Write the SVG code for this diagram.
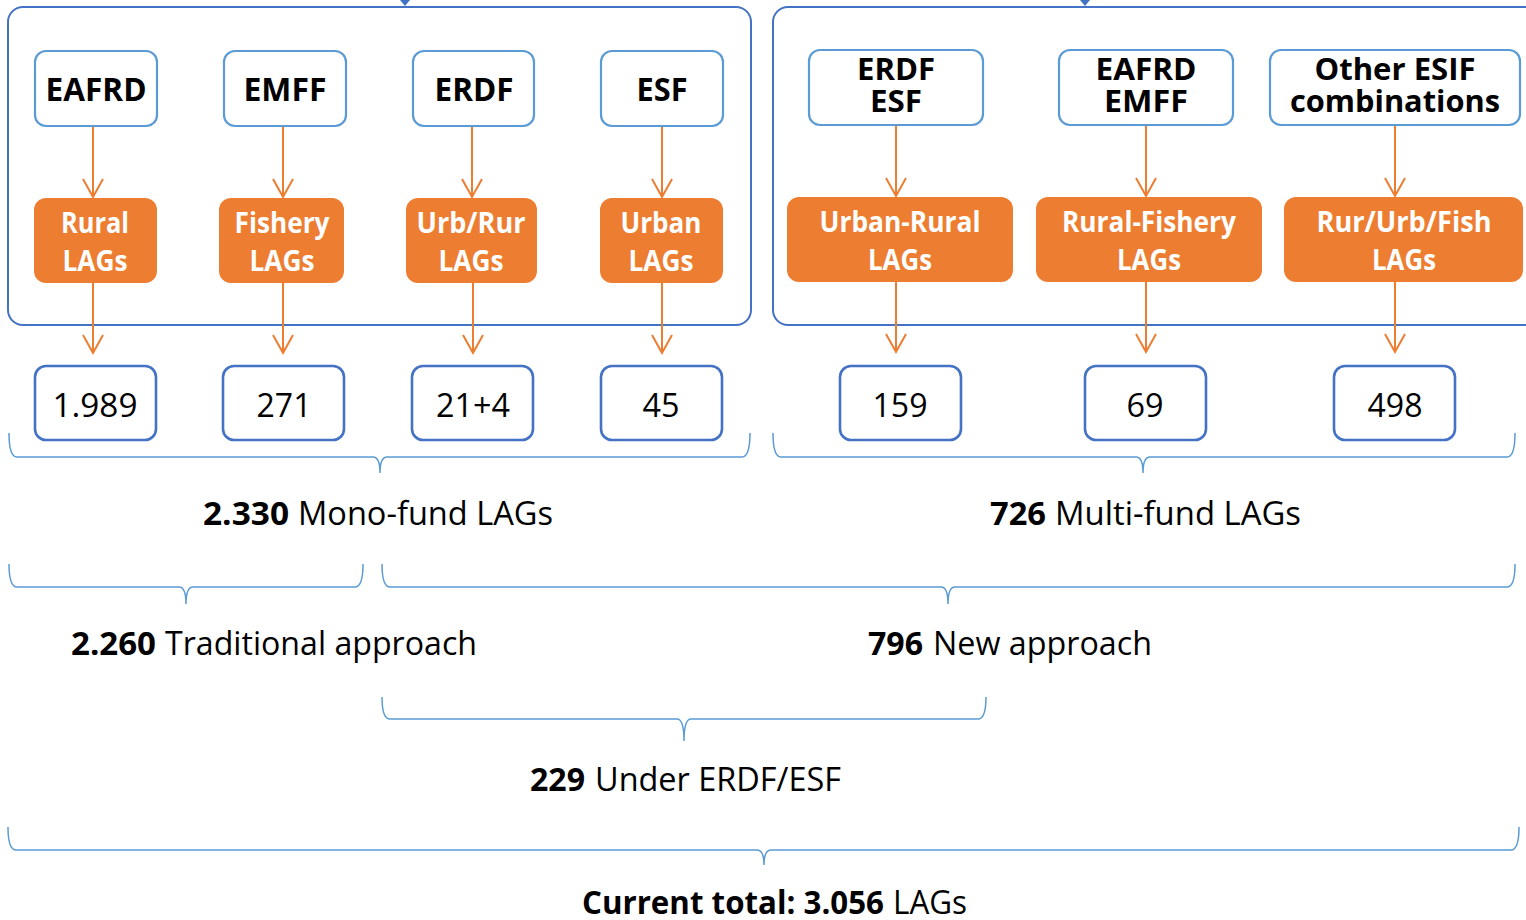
<svg xmlns="http://www.w3.org/2000/svg" width="1526" height="920" viewBox="0 0 1526 920">
<defs>
<style>
.cont{fill:none;stroke:#4472C4;stroke-width:2}
.fund{fill:#fff;stroke:#5B9BD5;stroke-width:2.2}
.lag{fill:#ED7D31}
.num{fill:#fff;stroke:#4472C4;stroke-width:2.6}
.brace{fill:none;stroke:#5B9BD5;stroke-width:1.5}
.conn{stroke:#ED7D31;stroke-width:2;fill:none}
.t{font-family:"Open Sans","Noto Sans",sans-serif}
.fl{font-size:32px;font-weight:700;fill:#000;text-anchor:middle}
.fl2{font-size:30px;font-weight:700;fill:#000;text-anchor:middle}
.ll{font-size:28px;font-weight:700;fill:#fff;text-anchor:middle}
.nl{font-size:33px;fill:#000;text-anchor:middle}
.b{font-size:33px;font-weight:700;fill:#000}
.r{font-size:33px;fill:#000}
</style>
<marker id="ah" markerWidth="24" markerHeight="24" refX="19" refY="11" orient="auto" markerUnits="userSpaceOnUse" viewBox="0 0 24 24">
<path d="M1,1 L19,11 L1,21" fill="none" stroke="#ED7D31" stroke-width="2"/>
</marker>
</defs>
<rect width="1526" height="920" fill="#fff"/>

<g id="mono-container">
<rect class="cont" x="8" y="7" width="743" height="318" rx="15"/>
<polygon points="400,0 410,0 405,6" fill="#4472C4"/>
</g>
<g id="multi-container">
<rect class="cont" x="773" y="7" width="780" height="318" rx="15"/>
<polygon points="1080,0 1090,0 1085,6" fill="#4472C4"/>
</g>

<g id="connectors">
<line class="conn" x1="93" y1="126" x2="93" y2="197" marker-end="url(#ah)"/>
<line class="conn" x1="283" y1="126" x2="283" y2="197" marker-end="url(#ah)"/>
<line class="conn" x1="472" y1="126" x2="472" y2="197" marker-end="url(#ah)"/>
<line class="conn" x1="662" y1="126" x2="662" y2="197" marker-end="url(#ah)"/>
<line class="conn" x1="896" y1="125" x2="896" y2="196" marker-end="url(#ah)"/>
<line class="conn" x1="1146" y1="125" x2="1146" y2="196" marker-end="url(#ah)"/>
<line class="conn" x1="1395" y1="125" x2="1395" y2="196" marker-end="url(#ah)"/>
<line class="conn" x1="93" y1="283" x2="93" y2="353" marker-end="url(#ah)"/>
<line class="conn" x1="283" y1="283" x2="283" y2="353" marker-end="url(#ah)"/>
<line class="conn" x1="473" y1="283" x2="473" y2="353" marker-end="url(#ah)"/>
<line class="conn" x1="662" y1="283" x2="662" y2="353" marker-end="url(#ah)"/>
<line class="conn" x1="896" y1="282" x2="896" y2="352" marker-end="url(#ah)"/>
<line class="conn" x1="1146" y1="282" x2="1146" y2="352" marker-end="url(#ah)"/>
<line class="conn" x1="1395" y1="282" x2="1395" y2="352" marker-end="url(#ah)"/>
</g>

<g id="fund-eafrd"><rect class="fund" x="35" y="51" width="122" height="75" rx="11"/><text class="t fl" x="96" y="101" textLength="101" lengthAdjust="spacingAndGlyphs">EAFRD</text></g>
<g id="fund-emff"><rect class="fund" x="224" y="51" width="122" height="75" rx="11"/><text class="t fl" x="285" y="101" textLength="83" lengthAdjust="spacingAndGlyphs">EMFF</text></g>
<g id="fund-erdf"><rect class="fund" x="413" y="51" width="121" height="75" rx="11"/><text class="t fl" x="474" y="101" textLength="79" lengthAdjust="spacingAndGlyphs">ERDF</text></g>
<g id="fund-esf"><rect class="fund" x="601" y="51" width="122" height="75" rx="11"/><text class="t fl" x="662" y="101" textLength="51" lengthAdjust="spacingAndGlyphs">ESF</text></g>
<g id="fund-erdf-esf"><rect class="fund" x="809" y="50" width="174" height="75" rx="11"/><text class="t fl2" x="896" y="80" textLength="78" lengthAdjust="spacingAndGlyphs">ERDF</text><text class="t fl2" x="896" y="112" textLength="52" lengthAdjust="spacingAndGlyphs">ESF</text></g>
<g id="fund-eafrd-emff"><rect class="fund" x="1059" y="50" width="174" height="75" rx="11"/><text class="t fl2" x="1146" y="80" textLength="101" lengthAdjust="spacingAndGlyphs">EAFRD</text><text class="t fl2" x="1146" y="112" textLength="84" lengthAdjust="spacingAndGlyphs">EMFF</text></g>
<g id="fund-other"><rect class="fund" x="1270" y="50" width="250" height="75" rx="11"/><text class="t fl2" x="1395" y="80" textLength="161" lengthAdjust="spacingAndGlyphs">Other ESIF</text><text class="t fl2" x="1395" y="112" textLength="210" lengthAdjust="spacingAndGlyphs">combinations</text></g>

<g id="lag-rural"><rect class="lag" x="34" y="198" width="123" height="85" rx="12"/><text class="t ll" x="95" y="233" textLength="68" lengthAdjust="spacingAndGlyphs">Rural</text><text class="t ll" x="95" y="271" textLength="65" lengthAdjust="spacingAndGlyphs">LAGs</text></g>
<g id="lag-fishery"><rect class="lag" x="219" y="198" width="125" height="85" rx="12"/><text class="t ll" x="282" y="233" textLength="95" lengthAdjust="spacingAndGlyphs">Fishery</text><text class="t ll" x="282" y="271" textLength="65" lengthAdjust="spacingAndGlyphs">LAGs</text></g>
<g id="lag-urbrur"><rect class="lag" x="406" y="198" width="131" height="85" rx="12"/><text class="t ll" x="471" y="233" textLength="109" lengthAdjust="spacingAndGlyphs">Urb/Rur</text><text class="t ll" x="471" y="271" textLength="65" lengthAdjust="spacingAndGlyphs">LAGs</text></g>
<g id="lag-urban"><rect class="lag" x="600" y="198" width="123" height="85" rx="12"/><text class="t ll" x="661" y="233" textLength="81" lengthAdjust="spacingAndGlyphs">Urban</text><text class="t ll" x="661" y="271" textLength="65" lengthAdjust="spacingAndGlyphs">LAGs</text></g>
<g id="lag-urban-rural"><rect class="lag" x="787" y="197" width="226" height="85" rx="12"/><text class="t ll" x="900" y="232" textLength="161" lengthAdjust="spacingAndGlyphs">Urban-Rural</text><text class="t ll" x="900" y="270" textLength="64" lengthAdjust="spacingAndGlyphs">LAGs</text></g>
<g id="lag-rural-fishery"><rect class="lag" x="1036" y="197" width="226" height="85" rx="12"/><text class="t ll" x="1149" y="232" textLength="174" lengthAdjust="spacingAndGlyphs">Rural-Fishery</text><text class="t ll" x="1149" y="270" textLength="64" lengthAdjust="spacingAndGlyphs">LAGs</text></g>
<g id="lag-rur-urb-fish"><rect class="lag" x="1284" y="197" width="239" height="85" rx="12"/><text class="t ll" x="1404" y="232" textLength="175" lengthAdjust="spacingAndGlyphs">Rur/Urb/Fish</text><text class="t ll" x="1404" y="270" textLength="64" lengthAdjust="spacingAndGlyphs">LAGs</text></g>

<g id="num-1989"><rect class="num" x="35" y="366" width="121" height="74" rx="11"/><text class="t nl" x="95" y="417" textLength="85" lengthAdjust="spacingAndGlyphs">1.989</text></g>
<g id="num-271"><rect class="num" x="223" y="366" width="121" height="74" rx="11"/><text class="t nl" x="284" y="417" textLength="55" lengthAdjust="spacingAndGlyphs">271</text></g>
<g id="num-21-4"><rect class="num" x="412" y="366" width="121" height="74" rx="11"/><text class="t nl" x="473" y="417" textLength="74" lengthAdjust="spacingAndGlyphs">21+4</text></g>
<g id="num-45"><rect class="num" x="601" y="366" width="121" height="74" rx="11"/><text class="t nl" x="661" y="417" textLength="37" lengthAdjust="spacingAndGlyphs">45</text></g>
<g id="num-159"><rect class="num" x="840" y="366" width="121" height="74" rx="11"/><text class="t nl" x="900" y="417" textLength="55" lengthAdjust="spacingAndGlyphs">159</text></g>
<g id="num-69"><rect class="num" x="1085" y="366" width="121" height="74" rx="11"/><text class="t nl" x="1145" y="417" textLength="37" lengthAdjust="spacingAndGlyphs">69</text></g>
<g id="num-498"><rect class="num" x="1334" y="366" width="121" height="74" rx="11"/><text class="t nl" x="1395" y="417" textLength="55" lengthAdjust="spacingAndGlyphs">498</text></g>

<g id="braces">
<path class="brace" d="M9,433 Q9,457 17,457 L373,457 Q380,457 380,473 Q380,457 387,457 L742,457 Q750,457 750,433"/>
<path class="brace" d="M773,433 Q773,457 781,457 L1136,457 Q1143,457 1143,473 Q1143,457 1150,457 L1507,457 Q1515,457 1515,433"/>
<path class="brace" d="M9,564 Q9,587 17,587 L179,587 Q186,587 186,604 Q186,587 193,587 L355,587 Q363,587 363,564"/>
<path class="brace" d="M382,564 Q382,587 390,587 L941,587 Q948,587 948,604 Q948,587 955,587 L1507,587 Q1515,587 1515,564"/>
<path class="brace" d="M382,697 Q382,719 390,719 L677,719 Q684,719 684,741 Q684,719 691,719 L978,719 Q986,719 986,697"/>
<path class="brace" d="M8,827 Q8,850 16,850 L757,850 Q764,850 764,865 Q764,850 771,850 L1511,850 Q1519,850 1519,827"/>
</g>

<g id="label-mono"><text class="t b" x="203" y="525" textLength="86" lengthAdjust="spacingAndGlyphs">2.330</text><text class="t r" x="298" y="525" textLength="255" lengthAdjust="spacingAndGlyphs">Mono-fund LAGs</text></g>
<g id="label-multi"><text class="t b" x="990" y="525" textLength="56" lengthAdjust="spacingAndGlyphs">726</text><text class="t r" x="1055" y="525" textLength="246" lengthAdjust="spacingAndGlyphs">Multi-fund LAGs</text></g>
<g id="label-traditional"><text class="t b" x="71" y="655" textLength="85" lengthAdjust="spacingAndGlyphs">2.260</text><text class="t r" x="165" y="655" textLength="312" lengthAdjust="spacingAndGlyphs">Traditional approach</text></g>
<g id="label-new"><text class="t b" x="868" y="655" textLength="55" lengthAdjust="spacingAndGlyphs">796</text><text class="t r" x="933" y="655" textLength="219" lengthAdjust="spacingAndGlyphs">New approach</text></g>
<g id="label-erdf-esf"><text class="t b" x="530" y="791" textLength="55" lengthAdjust="spacingAndGlyphs">229</text><text class="t r" x="595" y="791" textLength="246" lengthAdjust="spacingAndGlyphs">Under ERDF/ESF</text></g>
<g id="label-total"><text class="t b" x="582" y="914" textLength="302" lengthAdjust="spacingAndGlyphs">Current total: 3.056</text><text class="t r" x="893" y="914" textLength="74" lengthAdjust="spacingAndGlyphs">LAGs</text></g>
</svg>
